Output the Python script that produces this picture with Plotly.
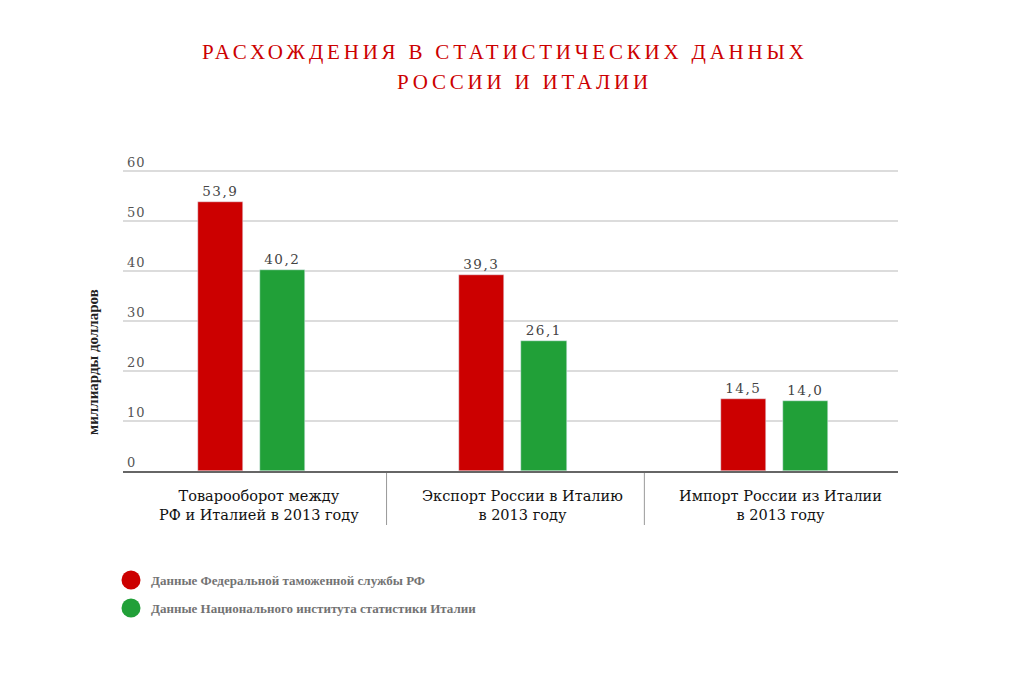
import plotly.graph_objects as go

categories = ["Товарооборот между<br>РФ и Италией в 2013 году",
              "Экспорт России в Италию<br>в 2013 году",
              "Импорт России из Италии<br>в 2013 году"]
fts_values = [53.9, 39.3, 14.5]
istat_values = [40.2, 26.1, 14.0]
series_names = ["Данные Федеральной таможенной службы РФ",
                "Данные Национального института статистики Италии"]
y_ticks = [0, 10, 20, 30, 40, 50, 60]
title_lines = ["РАСХОЖДЕНИЯ В СТАТИСТИЧЕСКИХ ДАННЫХ", "РОССИИ И ИТАЛИИ"]
y_title = "миллиарды долларов"

RED = "#cc0000"
GREEN = "#21a038"
SERIF = "Liberation Serif"
WIDE = "DejaVu Serif"

def fmt(v):
    return f"{v:.1f}".replace(".", ",")

def spaced(s, ls):
    return f'<span style="letter-spacing:{ls}px">{s}</span>'

# page offset (body margin)
OFF = 8
L, R, T, B = 115, 128, 153, 228
PW = 1018 - L - R
PH = 691 - T - B

def px(page_x):
    return (page_x - OFF - L) / PW

def py(page_y):
    return (T + PH - (page_y - OFF)) / PH

x_idx = list(range(len(categories)))
fig = go.Figure()
for vals, col, off, nm in [(fts_values, RED, -0.119, series_names[0]),
                           (istat_values, GREEN, 0.119, series_names[1])]:
    fig.add_trace(go.Bar(x=x_idx, y=vals, name=nm, marker_color=col,
                         width=0.173, offset=off - 0.0865,
                         text=[spaced(fmt(v), 1.5) for v in vals], textposition="outside",
                         textfont=dict(family=WIDE, size=13.5, color="#444"),
                         cliponaxis=False, showlegend=False))

fig.update_layout(
    width=1018, height=691,
    margin=dict(l=L, r=R, t=T, b=B),
    paper_bgcolor="white", plot_bgcolor="white",
    bargap=0, showlegend=False,
    font=dict(family=SERIF, color="#444"),
)
fig.update_xaxes(range=[-0.493, 2.474], showticklabels=False, showgrid=False,
                 zeroline=False, showline=True, linecolor="#666", linewidth=2, ticks="")
fig.update_yaxes(range=[0, 62], tickvals=y_ticks, ticktext=[spaced(str(t), 1) for t in y_ticks],
                 showgrid=True, gridcolor="#dcdcdc", gridwidth=2, zeroline=False,
                 ticklabelposition="inside", ticklabelshift=-9, ticklabelstandoff=1,
                 ticklabeloverflow="allow",
                 tickfont=dict(family=WIDE, size=13, color="#555"), showline=False, ticks="")

# title
for txt, cx, cy in [(title_lines[0], 505, 52), (title_lines[1], 524, 82)]:
    fig.add_annotation(text=spaced(txt, 3.8), xref="paper", yref="paper",
                       x=px(cx), y=py(cy), yanchor="middle", xanchor="center",
                       showarrow=False, font=dict(family=SERIF, size=21, color=RED))

# y axis title
fig.add_annotation(text=f"<b>{y_title}</b>", xref="paper", yref="paper",
                   x=px(93), y=py(362), textangle=-90, showarrow=False,
                   xanchor="center", yanchor="middle",
                   font=dict(family=SERIF, size=15, color="#222"))

# category labels
label_x = [0.029, 1.035, 2.025]
for cx, cat in zip(label_x, categories):
    fig.add_annotation(text=cat, xref="x", yref="paper", x=cx, y=py(505),
                       showarrow=False, xanchor="center", yanchor="middle",
                       font=dict(family=WIDE, size=14.5, color="#111"))

# separators
for sx in [0.516, 1.503]:
    fig.add_shape(type="line", xref="x", yref="paper", x0=sx, x1=sx,
                  y0=py(473), y1=py(525), line=dict(color="#999", width=1))

# legend
for i, (nm, col) in enumerate(zip(series_names, [RED, GREEN])):
    cy = 580 + 28 * i
    fig.add_shape(type="circle", xref="paper", yref="paper", xsizemode="pixel", ysizemode="pixel",
                  xanchor=px(131), yanchor=py(cy), x0=-9.5, x1=9.5, y0=-9.5, y1=9.5,
                  fillcolor=col, line=dict(width=0))
    fig.add_annotation(text=f"<b>{nm}</b>", xref="paper", yref="paper", x=px(149), y=py(cy),
                       xanchor="left", yanchor="middle", showarrow=False,
                       font=dict(family=SERIF, size=13, color="#737373"))

fig.write_html("out.html")
